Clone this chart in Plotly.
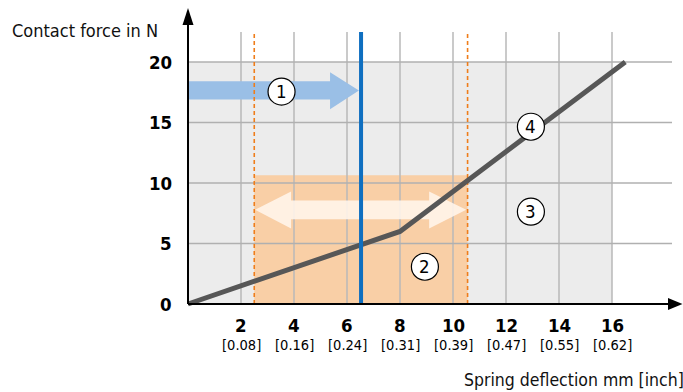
import plotly.graph_objects as go

# ---- data ----
curve_x = [0, 8, 16.5]
curve_y = [0, 6, 20]
y_ticks = [0, 5, 10, 15, 20]
x_ticks = [2, 4, 6, 8, 10, 12, 14, 16]
inch_labels = ["[0.08]", "[0.16]", "[0.24]", "[0.31]", "[0.39]", "[0.47]", "[0.55]", "[0.62]"]
work_range = [2.5, 10.55]      # orange band (mm)
work_force_max = 10.65
grey_area = [16, 20]           # x max, y max of grey zone
operating_point = 6.53         # blue line
circle_labels = ["1", "2", "3", "4"]
circle_x = [3.53, 8.94, 12.94, 12.94]
circle_y = [17.55, 3.08, 7.63, 14.65]

FONT = "Liberation Sans Narrow, DejaVu Sans Condensed, Arial Narrow, Roboto, sans-serif"

# pixel mapping helpers (for layout only)
PX0, PXS = 188, 26.5
PY0, PYS = 304, 12.1
L, T, B = 160, 0, 330
W, H = 683, 392
def dx(px): return (px - PX0) / PXS
def dy(py): return (PY0 - py) / PYS
def paper_x(px): return (px - L) / (W - L)
def paper_y(py): return (B - py) / (B - T)

xr = [dx(L), dx(W)]
yr = [dy(B), dy(T)]
grid_top = dy(32)
hgrid_right = dx(672)

shapes = []
shapes.append(dict(type="rect", xref="x", yref="y", x0=0, x1=grey_area[0], y0=0, y1=grey_area[1],
                   fillcolor="#ececec", line=dict(width=0), layer="below"))
shapes.append(dict(type="rect", xref="x", yref="y", x0=work_range[0], x1=work_range[1], y0=0, y1=work_force_max,
                   fillcolor="#f9cfa6", line=dict(width=0), layer="below"))
for xv in x_ticks:
    shapes.append(dict(type="line", xref="x", yref="y", x0=xv, x1=xv, y0=0, y1=grid_top,
                       line=dict(color="#b8b8b8", width=1.5), layer="below"))
for yv in y_ticks[1:]:
    shapes.append(dict(type="line", xref="x", yref="y", x0=0, x1=hgrid_right, y0=yv, y1=yv,
                       line=dict(color="#b0b0b0", width=1.5), layer="below"))
# blue arrow (1)
bx_shaft, bx_tip = 5.36, 6.45
by_c = 17.65
blue_path = (f"M 0 16.9 L {bx_shaft} 16.9 L {bx_shaft} 16.1 L {bx_tip} {by_c} "
             f"L {bx_shaft} 19.15 L {bx_shaft} 18.4 L 0 18.4 Z")
shapes.append(dict(type="path", xref="x", yref="y", path=blue_path,
                   fillcolor="#9abfe6", line=dict(width=0), layer="below"))
# white double arrow
wl, wlb, wrb, wr = 2.53, 3.89, 9.1, 10.5
wc = 7.78
white_path = (f"M {wl} {wc} L {wlb} 9.3 L {wlb} 8.56 L {wrb} 8.56 L {wrb} 9.3 L {wr} {wc} "
              f"L {wrb} 6.25 L {wrb} 7.0 L {wlb} 7.0 L {wlb} 6.25 Z")
shapes.append(dict(type="path", xref="x", yref="y", path=white_path,
                   fillcolor="rgba(255,244,234,0.9)", line=dict(width=0), layer="below"))
for xv in work_range:
    shapes.append(dict(type="line", xref="x", yref="y", x0=xv, x1=xv, y0=0, y1=grid_top,
                       line=dict(color="#ef7d1a", width=1.6, dash="4px,3px"), layer="below"))
shapes.append(dict(type="line", xref="x", yref="y", x0=operating_point, x1=operating_point, y0=0, y1=grid_top,
                   line=dict(color="#0f6fc0", width=4), layer="above"))
# axes
shapes.append(dict(type="line", xref="x", yref="y", x0=0, x1=dx(672), y0=0, y1=0,
                   line=dict(color="black", width=2), layer="above"))
shapes.append(dict(type="line", xref="x", yref="y", x0=0, x1=0, y0=0, y1=dy(22),
                   line=dict(color="black", width=2), layer="above"))
shapes.append(dict(type="path", xref="x", yref="y",
                   path=f"M {dx(668)} {dy(298)} L {dx(682.5)} 0 L {dx(668)} {dy(310)} Z",
                   fillcolor="black", line=dict(width=0), layer="above"))
shapes.append(dict(type="path", xref="x", yref="y",
                   path=f"M {dx(182.5)} {dy(25)} L 0 {dy(8)} L {dx(193.5)} {dy(25)} Z",
                   fillcolor="black", line=dict(width=0), layer="above"))
for cx, cy in zip(circle_x, circle_y):
    shapes.append(dict(type="circle", xref="x", yref="y", xsizemode="pixel", ysizemode="pixel",
                       xanchor=cx, yanchor=cy, x0=-13.5, x1=13.5, y0=-13.5, y1=13.5,
                       fillcolor="white", line=dict(color="black", width=1.2), layer="above"))

fig = go.Figure()
fig.add_trace(go.Scatter(x=curve_x, y=curve_y, mode="lines",
                         line=dict(color="#575757", width=5), hoverinfo="skip",
                         showlegend=False, cliponaxis=False))

annotations = []
for lab, cx, cy in zip(circle_labels, circle_x, circle_y):
    annotations.append(dict(x=cx, y=cy, xref="x", yref="y", text=lab, showarrow=False,
                            xanchor="center", yanchor="middle",
                            font=dict(family=FONT, size=18.5, color="black")))
for yv in y_ticks:
    annotations.append(dict(x=0, y=yv, xref="x", yref="y", text=f"<b>{yv}</b>", showarrow=False,
                            xanchor="right", yanchor="middle", xshift=-14,
                            font=dict(family=FONT, size=18.5, color="black")))
for xv, il in zip(x_ticks, inch_labels):
    annotations.append(dict(x=paper_x(PX0 + PXS * xv), y=paper_y(325), xref="paper", yref="paper",
                            text=f"<b>{xv}</b>", showarrow=False, xanchor="center", yanchor="middle",
                            font=dict(family=FONT, size=18.5, color="black")))
    annotations.append(dict(x=paper_x(PX0 + PXS * xv), y=paper_y(345), xref="paper", yref="paper",
                            text=il, showarrow=False, xanchor="center", yanchor="middle",
                            font=dict(family=FONT, size=14.5, color="black")))
annotations.append(dict(x=paper_x(10), y=paper_y(30), xref="paper", yref="paper", text="Contact force in N",
                        showarrow=False, xanchor="left", yanchor="middle",
                        font=dict(family=FONT, size=18, color="#111")))
annotations.append(dict(x=paper_x(686), y=paper_y(380), xref="paper", yref="paper",
                        text="Spring deflection mm [inch]",
                        showarrow=False, xanchor="right", yanchor="middle",
                        font=dict(family=FONT, size=17.5, color="#111")))

fig.update_layout(
    width=W, height=H,
    margin=dict(l=L, r=0, t=T, b=H - B, pad=0),
    paper_bgcolor="white", plot_bgcolor="white",
    xaxis=dict(range=xr, visible=False, fixedrange=True),
    yaxis=dict(range=yr, visible=False, fixedrange=True),
    shapes=shapes, annotations=annotations,
    showlegend=False,
)

fig.write_html("out.html", config={"displayModeBar": False},
               post_script="document.body.style.margin='0';document.body.style.overflow='hidden';")
